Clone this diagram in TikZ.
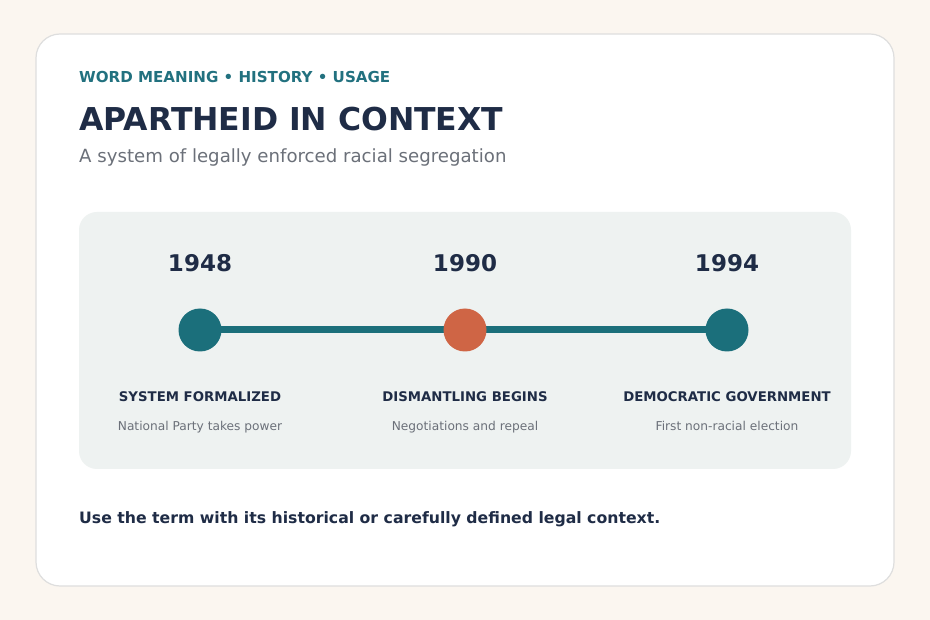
\documentclass[tikz,border=0pt]{standalone}
\usepackage{fontspec}
\setmainfont{DejaVu Sans}
\definecolor{bgc}{HTML}{FBF6F0}
\definecolor{cardborder}{HTML}{DEDEDE}
\definecolor{teal}{HTML}{1B6F7B}
\definecolor{tealtext}{HTML}{22717F}
\definecolor{navy}{HTML}{1F2C46}
\definecolor{graytext}{HTML}{6B7079}
\definecolor{panelc}{HTML}{EEF2F1}
\definecolor{orange}{HTML}{CF6545}
\begin{document}
\begin{tikzpicture}[x=1pt,y=-1pt,
  txt/.style={inner sep=0pt,anchor=base west},
  ctr/.style={inner sep=0pt,anchor=base},
  dot/.style={circle,minimum size=43pt,inner sep=0pt,fill=teal},
  year/.style={ctr,font=\bfseries\fontsize{23}{27}\selectfont,text=navy},
  evt/.style={ctr,font=\bfseries\fontsize{13.3}{16}\selectfont,text=navy},
  sub/.style={ctr,font=\fontsize{12.2}{14}\selectfont,text=graytext}]
\fill[bgc] (0,0) rectangle (930,620);
\useasboundingbox (0,0) rectangle (930,620);
\draw[cardborder,fill=white,line width=1.2pt,rounded corners=24pt] (36,34) rectangle (894,586);
\node[txt,font=\bfseries\fontsize{15.1}{18}\selectfont,text=tealtext] (kick) at (79,83) {WORD MEANING • HISTORY • USAGE};
\node[txt,font=\bfseries\fontsize{31.5}{36}\selectfont,text=navy] (title) at (79,131) {APARTHEID IN CONTEXT};
\node[txt,font=\fontsize{18.15}{22}\selectfont,text=graytext] (subt) at (79,163) {A system of legally enforced racial segregation};
\fill[panelc,rounded corners=18pt] (79,212) rectangle (851,469);
\coordinate (a) at (200,330);
\coordinate (b) at (465,330);
\coordinate (c) at (727,330);
\draw[teal,line width=7pt] (a) -- (c);
\node[dot] (da) at (a) {};
\node[dot,fill=orange] (db) at (b) {};
\node[dot] (dc) at (c) {};
\node[year] (ya) at (200,272) {1948};
\node[year] (yb) at (465,272) {1990};
\node[year] (yc) at (727,272) {1994};
\node[evt] (ea) at (200,402) {SYSTEM FORMALIZED};
\node[evt] (eb) at (465,402) {DISMANTLING BEGINS};
\node[evt] (ec) at (727,402) {DEMOCRATIC GOVERNMENT};
\node[sub] (sa) at (200,431) {National Party takes power};
\node[sub] (sb) at (465,431) {Negotiations and repeal};
\node[sub] (sc) at (727,431) {First non-racial election};
\node[txt,font=\bfseries\fontsize{15.7}{19}\selectfont,text=navy] (foot) at (79,523) {Use the term with its historical or carefully defined legal context.};
\end{tikzpicture}
\end{document}
